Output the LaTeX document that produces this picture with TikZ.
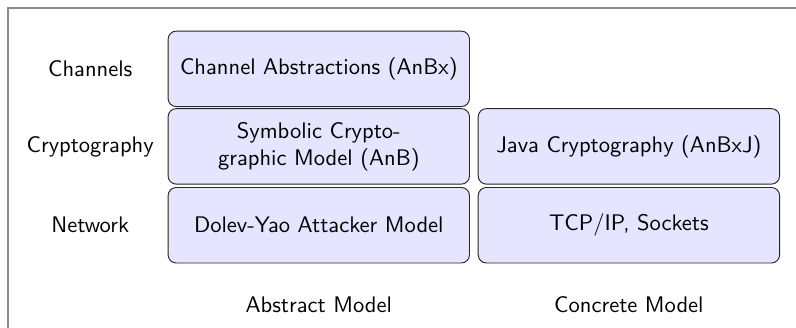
\documentclass[tikz,border=0pt]{standalone}
\usepackage{amsmath}
\begin{document}
\begin{tikzpicture}
                [x=10mm, y=10mm, font=\sffamily\fontsize{9.6}{11.6}\selectfont,
                bsty/.style={rectangle, rounded corners=3.5pt, draw=black!85, fill=blue!10, inner sep=0pt,
                             minimum width=45.1mm, minimum height=11.3mm, align=center},
                lsty/.style={inner sep=1pt},
                fsty/.style={draw=gray!90, semithick}]
                \useasboundingbox (0,0) rectangle (11.91,-4.907);
                \clip (0,0) rectangle (11.91,-4.907);
                % frame
                \draw[fsty] (0.12,-0.12) rectangle (12.5,-5.5);
                % layer labels
                \node[lsty] (lch) at (1.35,-1.03) {Channels};
                \node[lsty] (lcr) at (1.35,-2.19) {Cryptography};
                \node[lsty] (lnw) at (1.35,-3.37) {Network};
                % boxes
                \node[bsty] (ch)  at (4.77,-1.03) {Channel Abstractions (AnBx)};
                \node[bsty] (cr)  at (4.77,-2.19) {Symbolic Crypto-\\graphic Model (AnB)};
                \node[bsty] (nw)  at (4.77,-3.37) {Dolev-Yao Attacker Model};
                \node[bsty] (jv)  at (9.41,-2.19) {Java Cryptography (AnBxJ)};
                \node[bsty] (tcp) at (9.41,-3.37) {TCP/IP, Sockets};
                % model labels
                \node[lsty] (abs) at (4.77,-4.56) {Abstract Model};
                \node[lsty] (con) at (9.41,-4.56) {Concrete Model};
            \end{tikzpicture}
\end{document}
